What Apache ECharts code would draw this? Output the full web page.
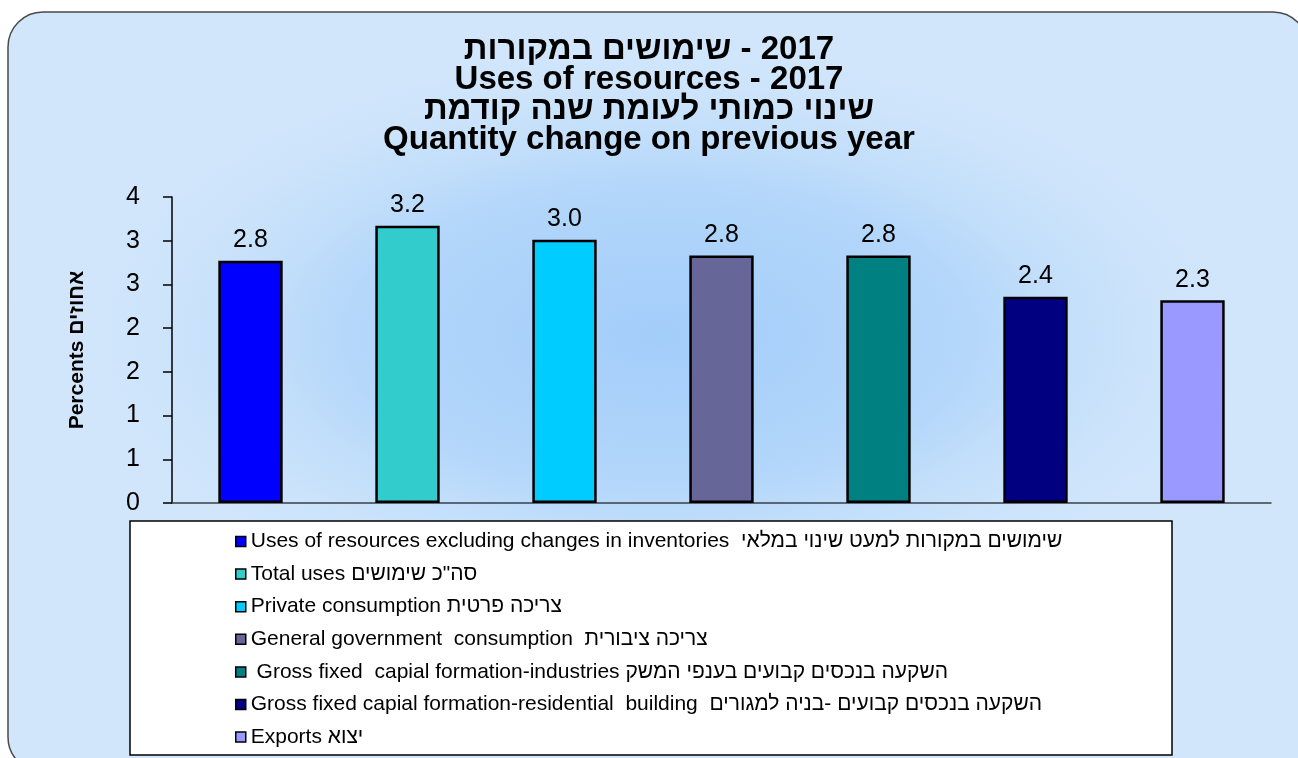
<!DOCTYPE html>
<html>
<head>
<meta charset="utf-8">
<script src="https://cdn.jsdelivr.net/npm/echarts@6/dist/echarts.min.js"></script>
<style>
html,body{margin:0;padding:0;background:#fff;}
#chart{width:1298px;height:758px;}
</style>
</head>
<body>
<div id="chart"></div>
<script>
// ---- data ----
var categories = [
  'Uses of resources excluding changes in inventories  שימושים במקורות למעט שינוי במלאי',
  'Total uses סה"כ שימושים',
  'Private consumption צריכה פרטית',
  'General government  consumption  צריכה ציבורית',
  ' Gross fixed  capial formation-industries השקעה בנכסים קבועים בענפי המשק',
  'Gross fixed capial formation-residential  building  השקעה בנכסים קבועים -בניה למגורים',
  'Exports יצוא'
];
var values = [2.77, 3.17, 3.01, 2.83, 2.83, 2.36, 2.32];
var colors = ['#0000ff', '#33cccc', '#00ccff', '#666699', '#008080', '#000080', '#9999ff'];
var yTickLabels = ['0', '1', '1', '2', '2', '3', '3', '4'];
var titleLines = [
  '\u200Eשימושים במקורות\u200E - 2017',
  'Uses of resources - 2017',
  'שינוי כמותי לעומת שנה קודמת',
  'Quantity change on previous year'
];
var yAxisName = 'Percents אחוזים';

// ---- chart ----
var chart = echarts.init(document.getElementById('chart'), null, {renderer: 'canvas'});

var series = categories.map(function (name, i) {
  var d = values.map(function (v, j) { return j === i ? v : '-'; });
  return {
    name: name,
    type: 'bar',
    stack: 'all',
    barWidth: '41%',
    data: d,
    itemStyle: {color: colors[i], borderColor: '#000', borderWidth: 2.5},
    label: {
      show: true,
      position: 'top',
      distance: 8,
      color: '#000',
      fontFamily: 'Liberation Sans, Arial, sans-serif',
      fontSize: 25,
      formatter: function (p) { return Number(p.value).toFixed(1); }
    },
    emphasis: {disabled: true}
  };
});

var legendData = categories.map(function (name) {
  return {name: name};
});

var option = {
  backgroundColor: '#ffffff',
  animation: false,
  graphic: [
    {
      type: 'rect', z: -10, silent: true,
      shape: {x: 8, y: 12, width: 1300, height: 760, r: 35},
      style: {fill: '#d1e6fb', stroke: '#4a4a4a', lineWidth: 1.5}
    },
    {
      type: 'circle', z: -9, silent: true,
      x: 660, y: 335, scaleX: 2.0, scaleY: 1,
      shape: {cx: 0, cy: 0, r: 310},
      style: {
        fill: {
          type: 'radial', x: 0.5, y: 0.5, r: 0.5,
          colorStops: [
            {offset: 0, color: '#a3cdfa'},
            {offset: 0.5, color: '#b4d7fa'},
            {offset: 1, color: 'rgba(209,230,251,0)'}
          ]
        }
      }
    },
    {
      type: 'rect', z: -5, silent: true,
      shape: {x: 130, y: 521, width: 1042, height: 234},
      style: {fill: '#ffffff', stroke: '#000', lineWidth: 1.5}
    }
  ],
  title: {
    text: titleLines.join('\n'),
    left: 'center',
    top: 35,
    padding: [0, 0, 0, 32],
    textStyle: {
      fontFamily: 'Liberation Sans, Arial, sans-serif',
      fontWeight: 'bold',
      fontSize: 33,
      lineHeight: 30,
      color: '#000'
    }
  },
  legend: {
    orient: 'vertical',
    left: 235,
    top: 531,
    padding: 0,
    itemWidth: 10,
    itemHeight: 10,
    itemGap: 11.6,
    icon: 'rect',
    itemStyle: {borderColor: '#000', borderWidth: 1.5},
    textStyle: {
      color: '#000',
      fontFamily: 'Liberation Sans, Arial, sans-serif',
      fontSize: 21,
      lineHeight: 20,
      padding: [0, 0, 0, 0]
    },
    selectedMode: false,
    data: legendData
  },
  grid: {left: 172, right: 27, top: 197, bottom: 255, containLabel: false},
  xAxis: {
    type: 'category',
    data: categories,
    axisLine: {lineStyle: {color: '#3a4048', width: 1.5}},
    axisTick: {show: false},
    axisLabel: {show: false},
    splitLine: {show: false}
  },
  yAxis: {
    type: 'value',
    min: 0,
    max: 3.5,
    interval: 0.5,
    name: yAxisName,
    nameLocation: 'middle',
    nameRotate: 90,
    nameGap: 84,
    nameTextStyle: {
      fontFamily: 'Liberation Sans Narrow, Arial Narrow, Liberation Sans, sans-serif',
      fontWeight: 'bold',
      fontSize: 21,
      color: '#000'
    },
    axisLine: {show: true, lineStyle: {color: '#000', width: 1.5}},
    axisTick: {show: true, inside: false, length: 9, lineStyle: {color: '#000', width: 1.5}},
    axisLabel: {
      margin: 32,
      color: '#000',
      fontFamily: 'Liberation Sans, Arial, sans-serif',
      fontSize: 25,
      formatter: function (v) { return yTickLabels[Math.round(v / 0.5)]; }
    },
    splitLine: {show: false}
  },
  series: series
};

chart.setOption(option);
</script>
</body>
</html>
